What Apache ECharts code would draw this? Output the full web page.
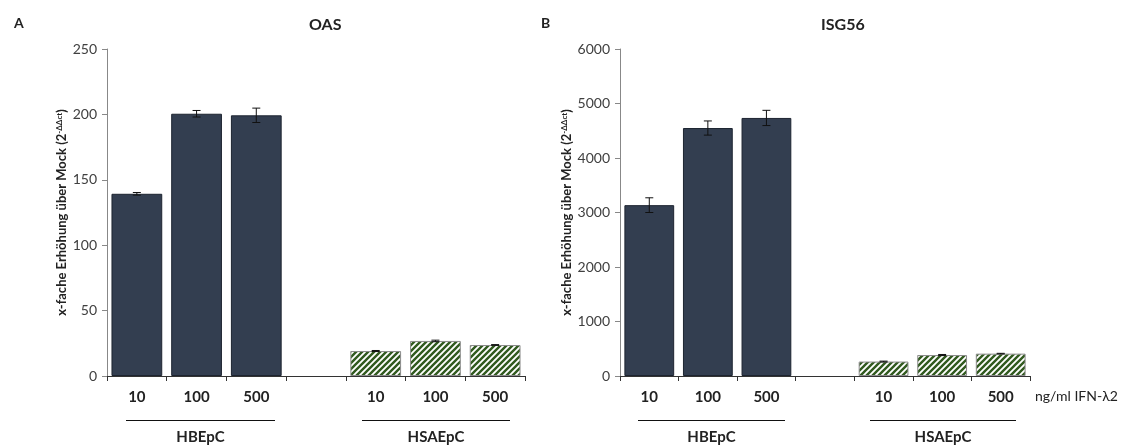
<!DOCTYPE html>
<html>
<head>
<meta charset="utf-8">
<script src="https://cdn.jsdelivr.net/npm/echarts@6/dist/echarts.min.js"></script>
<style>
  html, body { margin: 0; padding: 0; background: #fff; }
  #chart { width: 1128px; height: 445px; }
</style>
</head>
<body>
<div id="chart"></div>
<script>
// Dose categories (ng/ml IFN-λ2); the blank slot separates the two cell types
const doseLabels = ['10', '100', '500', '', '10', '100', '500'];
const cellGroups = ['HBEpC', 'HSAEpC'];

// OAS fold induction over mock (2^-ΔΔct)
const oasHBEpC = [139.3, 200.5, 199.3];
const oasHBEpCErr = [1, 2.5, 5.5];
const oasHSAEpC = [19.1, 26.8, 23.7];
const oasHSAEpCErr = [0.4, 0.6, 0.3];

// ISG56 fold induction over mock (2^-ΔΔct)
const isgHBEpC = [3135, 4550, 4735];
const isgHBEpCErr = [135, 130, 140];
const isgHSAEpC = [265, 385, 410];
const isgHSAEpCErr = [8, 10, 6];

const FONT = 'Lato, "Open Sans", sans-serif';
const DARK = '#333e50';

// diagonal hatch tile for the HSAEpC bars
function hatchTile() {
  const s = 6;
  const c = document.createElement('canvas');
  c.width = s; c.height = s;
  const g = c.getContext('2d');
  g.fillStyle = '#ffffff';
  g.fillRect(0, 0, s, s);
  g.strokeStyle = '#315a1f';
  g.lineWidth = 2.4;
  g.beginPath();
  g.moveTo(-1, s + 1); g.lineTo(s + 1, -1);
  g.moveTo(-1, 1); g.lineTo(1, -1);
  g.moveTo(s - 1, s + 1); g.lineTo(s + 1, s - 1);
  g.stroke();
  return c;
}
const hatch = { image: hatchTile(), repeat: 'repeat' };

function barData(first, second) {
  const darkStyle = { color: DARK, borderColor: '#1d2430', borderWidth: 1 };
  const hatchStyle = { color: hatch, borderColor: '#8c8c8c', borderWidth: 1 };
  return [
    ...first.map(v => ({ value: v, itemStyle: darkStyle })),
    '-',
    ...second.map(v => ({ value: v, itemStyle: hatchStyle }))
  ];
}
function errData(first, firstErr, second, secondErr) {
  return [
    ...first.map((v, i) => [i, v, firstErr[i]]),
    ...second.map((v, i) => [i + 4, v, secondErr[i]])
  ];
}

function renderErr(params, api) {
  const x = api.value(0), v = api.value(1), e = api.value(2);
  const hi = api.coord([x, v + e]);
  const lo = api.coord([x, v - e]);
  const w = 4;
  const st = { stroke: '#111', lineWidth: 1 };
  return {
    type: 'group',
    children: [
      { type: 'line', shape: { x1: hi[0], y1: hi[1], x2: lo[0], y2: lo[1] }, style: st },
      { type: 'line', shape: { x1: hi[0] - w, y1: hi[1], x2: hi[0] + w, y2: hi[1] }, style: st },
      { type: 'line', shape: { x1: lo[0] - w, y1: lo[1], x2: lo[0] + w, y2: lo[1] }, style: st }
    ]
  };
}

const yName = '{b|x-fache Erhöhung über Mock (2}{s|-ΔΔct}{b|)}';
const yNameStyle = {
  rich: {
    b: { fontFamily: FONT, fontWeight: 'bold', fontSize: 13, color: '#222' },
    s: { fontFamily: FONT, fontWeight: 'bold', fontSize: 8, color: '#222', verticalAlign: 'top', padding: [0, 0, 6, 0] }
  }
};

function xAxis(gridIndex) {
  return {
    type: 'category', gridIndex, data: doseLabels,
    axisLine: { lineStyle: { color: '#333', width: 1 } },
    axisTick: { show: true, length: 5, interval: 0, lineStyle: { color: '#333' } },
    axisLabel: { interval: 0, margin: 14, fontFamily: FONT, fontWeight: 'bold', fontSize: 15, color: '#222' }
  };
}
function yAxis(gridIndex, max, interval) {
  return {
    type: 'value', gridIndex, min: 0, max, interval,
    name: yName, nameLocation: 'middle', nameGap: 24, nameRotate: 90, nameTextStyle: yNameStyle,
    splitLine: { show: false },
    axisLine: { show: true, lineStyle: { color: '#888' } },
    axisTick: { show: true, length: 5, lineStyle: { color: '#888' } },
    axisLabel: { margin: 10, fontFamily: FONT, fontSize: 14, color: '#404040', formatter: v => String(v) }
  };
}

const chart = echarts.init(document.getElementById('chart'), null, { renderer: 'canvas' });

const option = {
  backgroundColor: '#fff',
  animation: false,
  title: [
    { text: 'A', left: 9, top: 11, textStyle: { fontFamily: FONT, fontWeight: 'bold', fontSize: 14, color: '#222' } },
    { text: 'OAS', left: 304, top: 12, textStyle: { fontFamily: FONT, fontWeight: 'bold', fontSize: 16, color: '#222' } },
    { text: 'B', left: 536, top: 11, textStyle: { fontFamily: FONT, fontWeight: 'bold', fontSize: 14, color: '#222' } },
    { text: 'ISG56', left: 816, top: 12, textStyle: { fontFamily: FONT, fontWeight: 'bold', fontSize: 16, color: '#222' } }
  ],
  grid: [
    { left: 107, top: 49, width: 418, height: 327 },
    { left: 620, top: 49, width: 410, height: 327 }
  ],
  xAxis: [xAxis(0), xAxis(1)],
  yAxis: [yAxis(0, 250, 50), yAxis(1, 6000, 1000)],
  series: [
    { type: 'bar', xAxisIndex: 0, yAxisIndex: 0, barCategoryGap: '15%', data: barData(oasHBEpC, oasHSAEpC) },
    { type: 'custom', xAxisIndex: 0, yAxisIndex: 0, renderItem: renderErr, encode: { x: 0, y: 1 }, z: 5,
      data: errData(oasHBEpC, oasHBEpCErr, oasHSAEpC, oasHSAEpCErr) },
    { type: 'bar', xAxisIndex: 1, yAxisIndex: 1, barCategoryGap: '15%', data: barData(isgHBEpC, isgHSAEpC) },
    { type: 'custom', xAxisIndex: 1, yAxisIndex: 1, renderItem: renderErr, encode: { x: 0, y: 1 }, z: 5,
      data: errData(isgHBEpC, isgHBEpCErr, isgHSAEpC, isgHSAEpCErr) }
  ]
};
chart.setOption(option);

// group brackets under the dose labels, placed from the category positions
const graphics = [];
const lineY = 420.5, textY = 437;
[0, 1].forEach(ax => {
  const groups = [
    { name: cellGroups[0], a: 0, b: 2, l: 11, r: 19 },
    { name: cellGroups[1], a: 4, b: 6, l: 14, r: 15 }
  ];
  groups.forEach(g => {
    const x1 = Math.round(chart.convertToPixel({ xAxisIndex: ax }, g.a) - g.l);
    const x2 = Math.round(chart.convertToPixel({ xAxisIndex: ax }, g.b) + g.r);
    graphics.push({ type: 'line', shape: { x1, y1: lineY, x2, y2: lineY }, style: { stroke: '#111', lineWidth: 1 } });
    graphics.push({ type: 'text', x: (x1 + x2) / 2, y: textY,
      style: { text: g.name, fontFamily: FONT, fontWeight: 'bold', fontSize: 15, fill: '#222', textAlign: 'center', textVerticalAlign: 'middle' } });
  });
});
graphics.push({ type: 'text', x: 1035, y: 396,
  style: { text: 'ng/ml IFN-λ2', fontFamily: FONT, fontSize: 14, fill: '#222', textAlign: 'left', textVerticalAlign: 'middle' } });
chart.setOption({ graphic: graphics });
</script>
</body>
</html>
